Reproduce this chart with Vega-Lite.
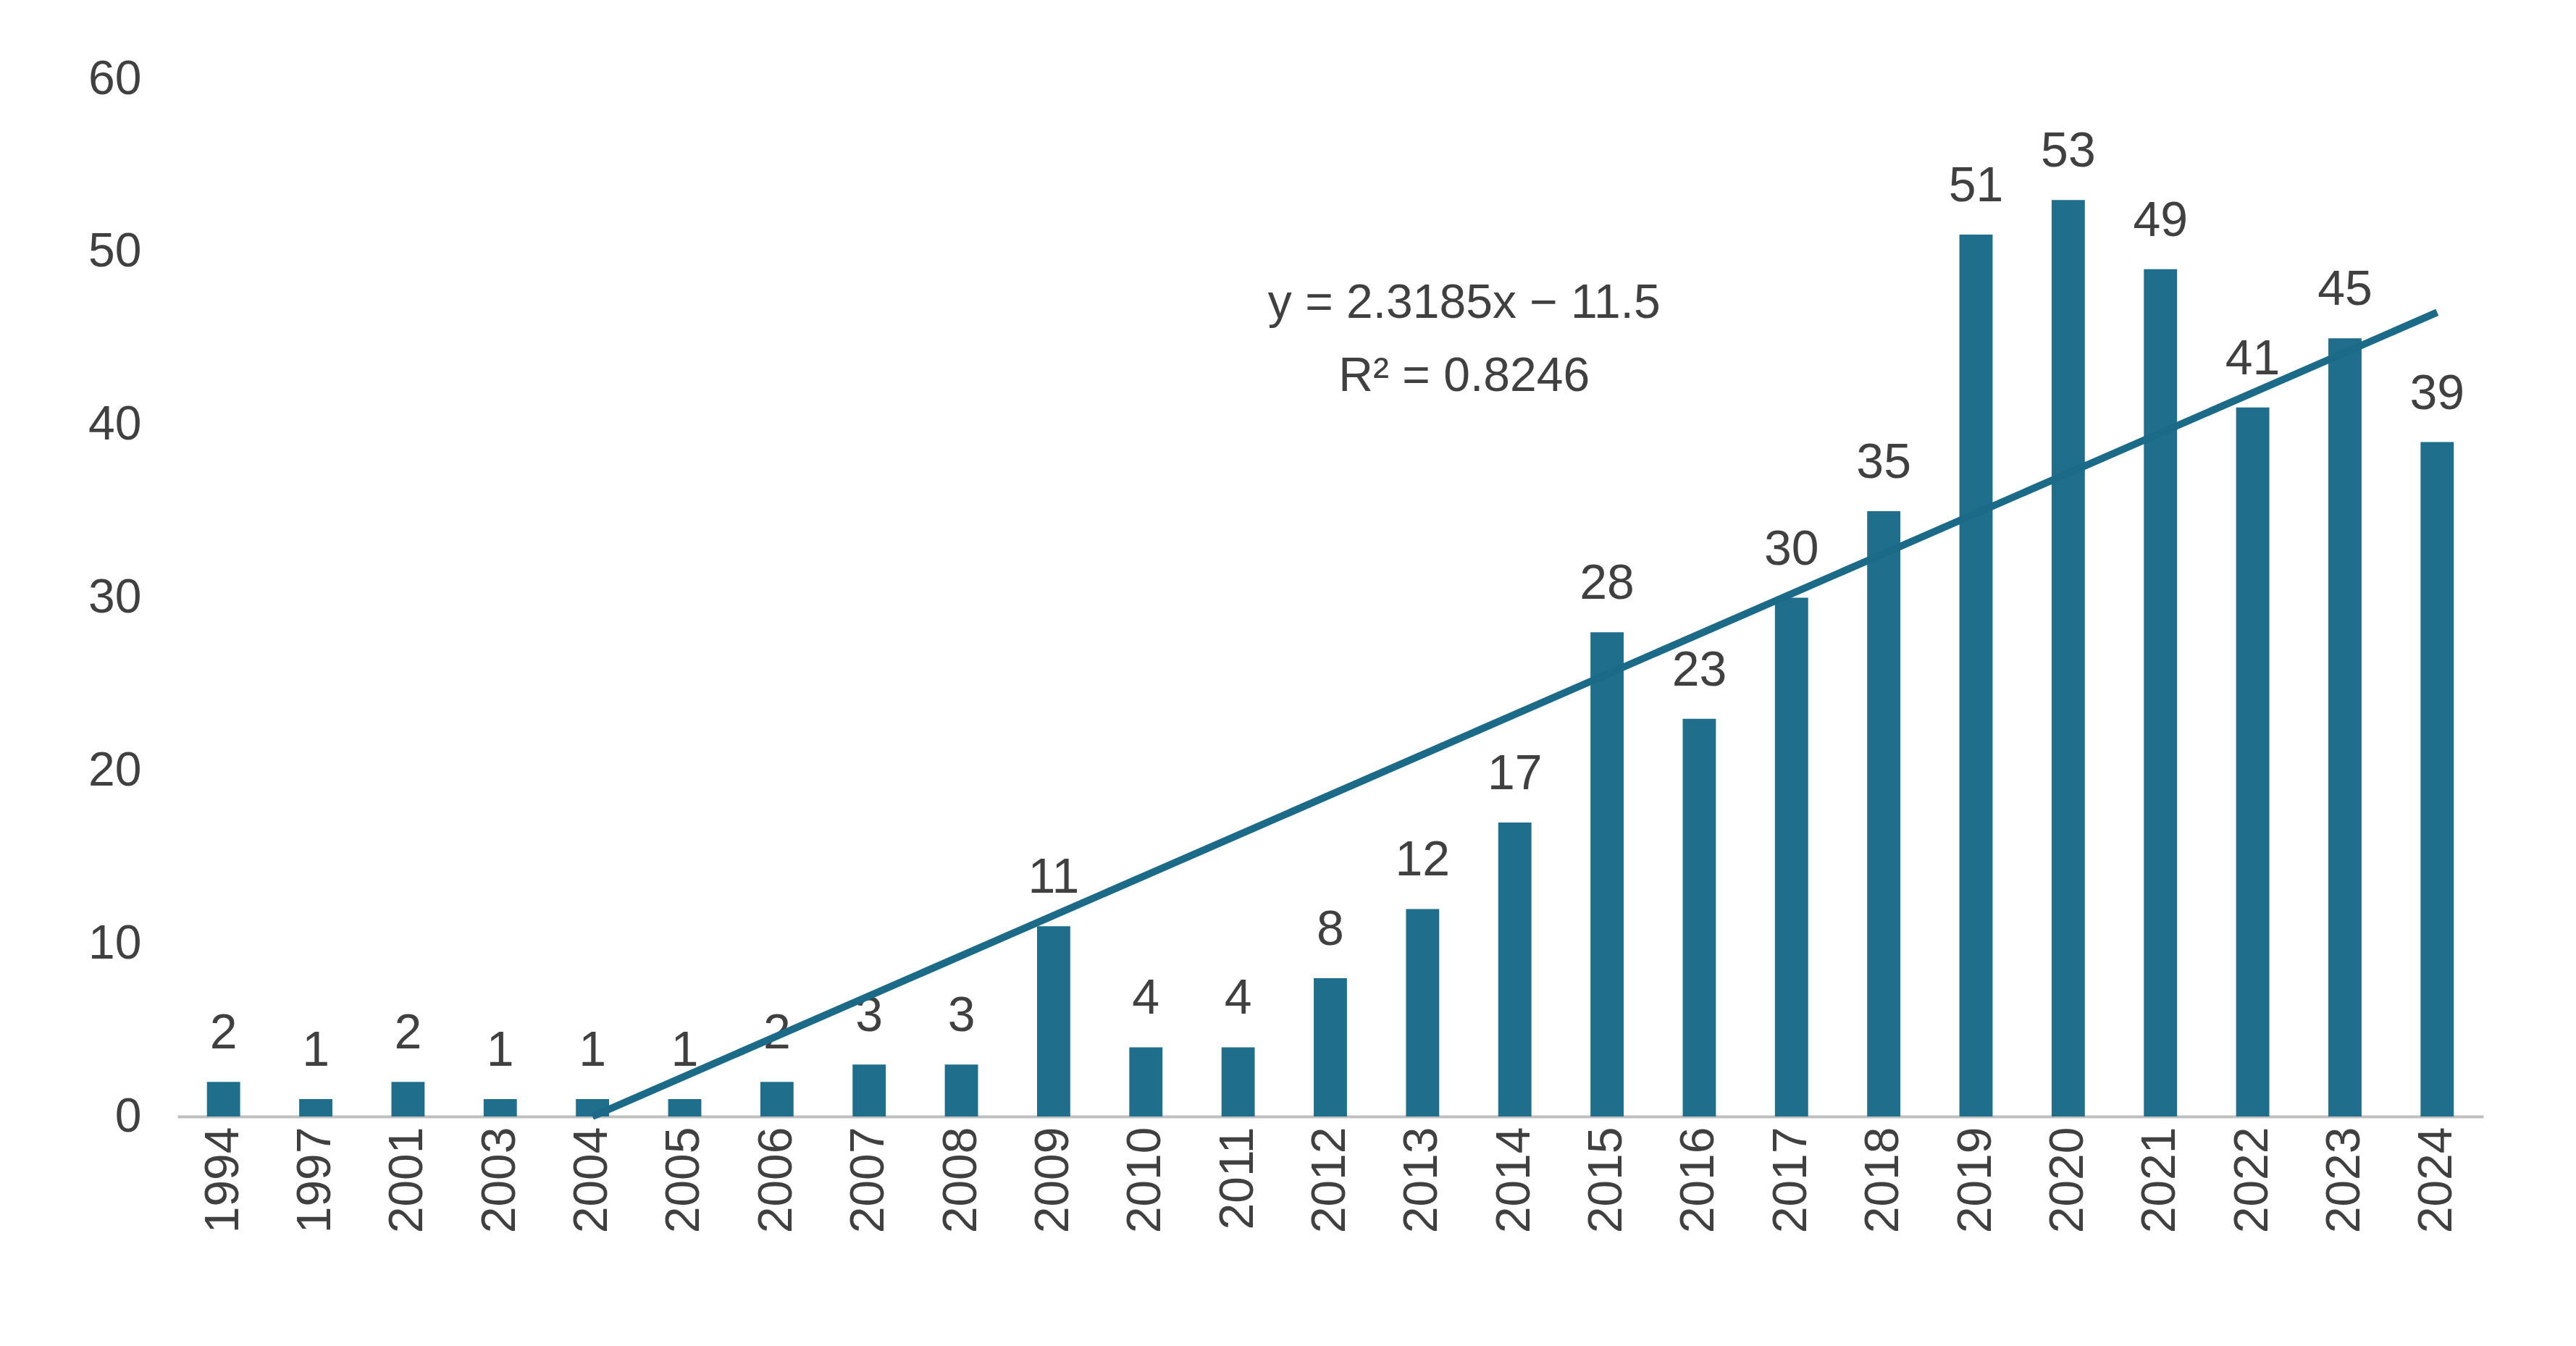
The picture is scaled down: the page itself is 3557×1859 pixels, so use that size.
{
  "$schema": "https://vega.github.io/schema/vega-lite/v6.json",
  "width": 3184,
  "height": 1433,
  "autosize": {"type": "none"},
  "padding": {"left": 245, "top": 109, "right": 128, "bottom": 317},
  "background": "white",
  "config": {
    "view": {"stroke": null},
    "font": "Liberation Sans",
    "text": {"font": "Liberation Sans"}
  },
  "datasets": {
    "pubs": [
      {"year": "1994", "count": 2}, {"year": "1997", "count": 1}, {"year": "2001", "count": 2},
      {"year": "2003", "count": 1}, {"year": "2004", "count": 1}, {"year": "2005", "count": 1},
      {"year": "2006", "count": 2}, {"year": "2007", "count": 3}, {"year": "2008", "count": 3},
      {"year": "2009", "count": 11}, {"year": "2010", "count": 4}, {"year": "2011", "count": 4},
      {"year": "2012", "count": 8}, {"year": "2013", "count": 12}, {"year": "2014", "count": 17},
      {"year": "2015", "count": 28}, {"year": "2016", "count": 23}, {"year": "2017", "count": 30},
      {"year": "2018", "count": 35}, {"year": "2019", "count": 51}, {"year": "2020", "count": 53},
      {"year": "2021", "count": 49}, {"year": "2022", "count": 41}, {"year": "2023", "count": 45},
      {"year": "2024", "count": 39}
    ],
    "trend": [
      {"year": "2004", "value": 0},
      {"year": "2024", "value": 46.5}
    ],
    "eq": [
      {"year": "2014", "value": 47, "label": "y = 2.3185x − 11.5"},
      {"year": "2014", "value": 42.8, "label": "R² = 0.8246"}
    ]
  },
  "layer": [
    {
      "data": {"name": "pubs"},
      "mark": {"type": "bar", "color": "#1f6e8c"},
      "encoding": {
        "x": {
          "field": "year", "type": "ordinal",
          "scale": {"paddingInner": 0.64, "paddingOuter": 0.32},
          "axis": {
            "title": null, "labelAngle": -90, "labelFontSize": 66, "labelColor": "#404040",
            "domainColor": "#bfbfbf", "domainWidth": 4, "ticks": false, "labelPadding": 14
          }
        },
        "y": {
          "field": "count", "type": "quantitative",
          "scale": {"domain": [0, 60]},
          "axis": {
            "title": null, "values": [0, 10, 20, 30, 40, 50, 60], "labelFontSize": 66,
            "labelColor": "#404040", "grid": false, "domain": false, "ticks": false, "labelPadding": 50
          }
        }
      }
    },
    {
      "data": {"name": "pubs"},
      "mark": {"type": "text", "fontSize": 68, "color": "#404040", "baseline": "bottom", "dy": -32},
      "encoding": {
        "x": {"field": "year", "type": "ordinal"},
        "y": {"field": "count", "type": "quantitative"},
        "text": {"field": "count"}
      }
    },
    {
      "data": {"name": "trend"},
      "mark": {"type": "line", "color": "#1b6a87", "strokeWidth": 10},
      "encoding": {
        "x": {"field": "year", "type": "ordinal"},
        "y": {"field": "value", "type": "quantitative"}
      }
    },
    {
      "data": {"name": "eq"},
      "mark": {"type": "text", "fontSize": 66, "color": "#404040", "dx": -70, "baseline": "middle"},
      "encoding": {
        "x": {"field": "year", "type": "ordinal"},
        "y": {"field": "value", "type": "quantitative"},
        "text": {"field": "label"}
      }
    }
  ]
}
